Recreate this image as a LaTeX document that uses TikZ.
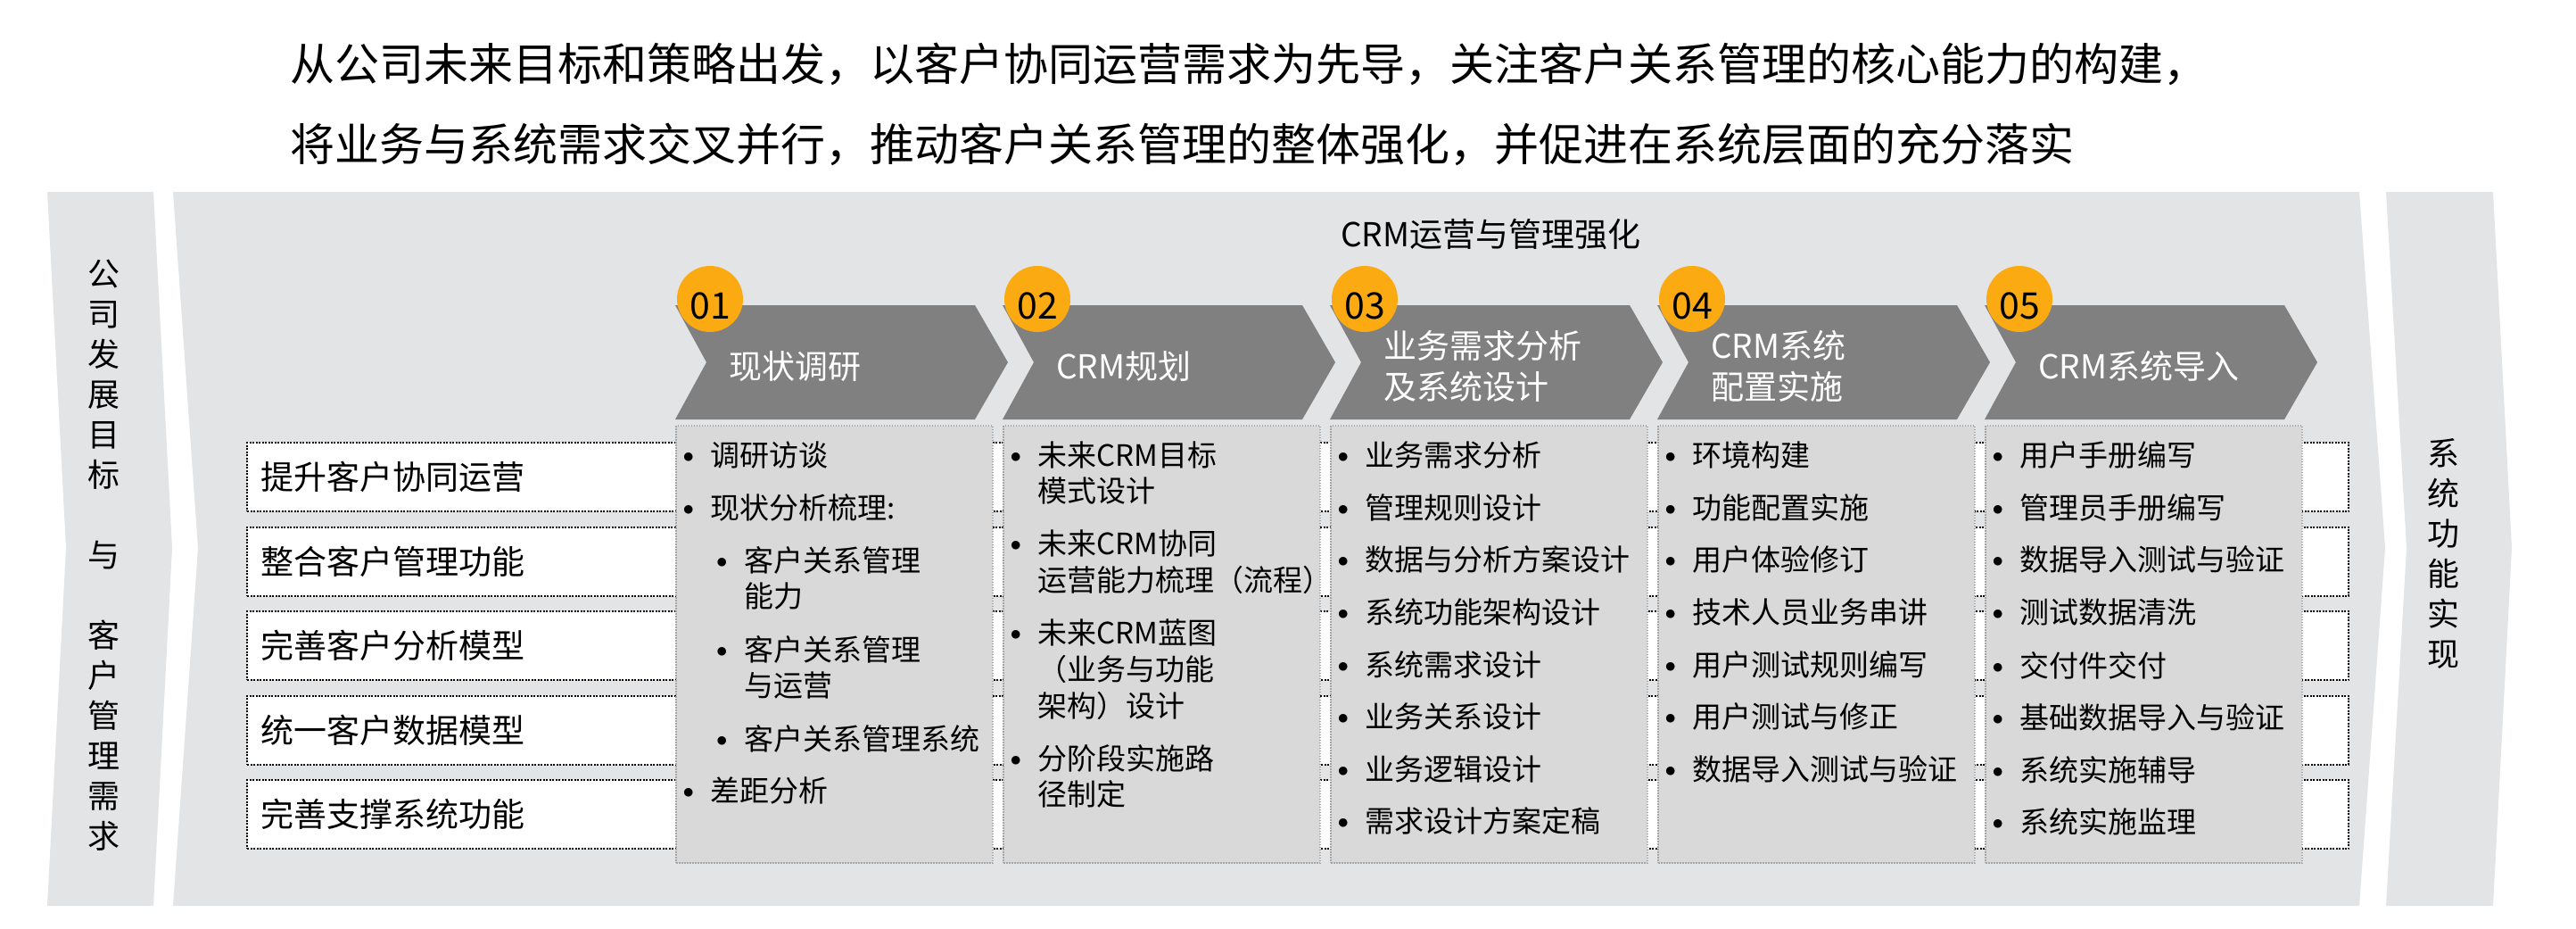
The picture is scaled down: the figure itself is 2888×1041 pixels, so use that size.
\documentclass[tikz,border=0pt]{standalone}
\usepackage{fontspec}
\setmainfont{Noto Sans CJK SC}
\usetikzlibrary{positioning}
\definecolor{panelgray}{RGB}{227,228,230}
\definecolor{stepgray}{RGB}{128,128,128}
\definecolor{boxgray}{RGB}{217,217,217}
\definecolor{dotgray}{RGB}{165,165,165}
\definecolor{numorange}{RGB}{252,170,17}
\newcommand{\bul}{\strut\makebox[31pt][l]{\raisebox{4pt}{$\bullet$}}}
\newcommand{\ind}{\strut\hspace*{31pt}}
\newcommand{\subbul}{\strut\hspace*{37.5pt}\makebox[31pt][l]{\raisebox{4pt}{$\bullet$}}}
\newcommand{\subind}{\strut\hspace*{68.5pt}}
\tikzset{
  band/.style={fill=panelgray},
  rowbox/.style={draw=black,fill=white,line width=2pt,dash pattern=on 2pt off 1.5pt,
    minimum width=2356pt,minimum height=77pt,anchor=north west,inner sep=0pt,outer sep=0pt},
  rowtext/.style={anchor=west,inner sep=0pt,font=\fontsize{37}{44}\selectfont},
  itembox/.style={draw=dotgray,fill=boxgray,line width=1.3pt,dash pattern=on 1.5pt off 1.5pt,
    minimum width=355pt,minimum height=490pt,anchor=north west,inner sep=0pt,outer sep=0pt},
  itemtext/.style={anchor=north west,inner sep=0pt,align=left,font=\fontsize{33}{40}\selectfont},
  stepnum/.style={circle,fill=numorange,minimum size=74pt,inner sep=0pt},
  numtext/.style={inner sep=0pt,font=\fontsize{41}{41}\selectfont},
  steptext/.style={anchor=west,inner sep=0pt,align=left,text=white,font=\fontsize{37}{46}\selectfont},
  sidetext/.style={inner sep=0pt,align=center,font=\fontsize{36}{45}\selectfont}
}
\begin{document}
\begin{tikzpicture}[x=1pt,y=-1pt]
  \useasboundingbox (0,0) rectangle (2888,1041);
  \node[anchor=west,inner sep=0pt,align=left,font=\fontsize{50}{90}\selectfont] (title) at (325,117)
    {从公司未来目标和策略出发，以客户协同运营需求为先导，关注客户关系管理的核心能力的构建，\\将业务与系统需求交叉并行，推动客户关系管理的整体强化，并促进在系统层面的充分落实};
  \fill[band] (53,215) -- (172,215) -- (193,614) -- (172,1015) -- (53,1015) -- (74,614) -- cycle;
  \fill[band] (194,215) -- (2645,215) -- (2674,614) -- (2645,1015) -- (194,1015) -- (222,614) -- cycle;
  \fill[band] (2675,215) -- (2795,215) -- (2816,614) -- (2795,1015) -- (2675,1015) -- (2698,614) -- cycle;
  \node[sidetext] (goal) at (116,622) {公\\司\\发\\展\\目\\标\\[45pt]与\\[45pt]客\\户\\管\\理\\需\\求};
  \node[sidetext] (result) at (2739,620) {系\\统\\功\\能\\实\\现};
  \node[anchor=west,inner sep=0pt,font=\fontsize{37}{44}\selectfont] (crm) at (1503,263) {CRM运营与管理强化};
  \foreach \t [count=\i] in {提升客户协同运营,整合客户管理功能,完善客户分析模型,统一客户数据模型,完善支撑系统功能}{
    \node[rowbox] (row\i) at (277,{496+(\i-1)*94.5}) {};
    \node[rowtext] (need\i) at ([xshift=15pt]row\i.west) {\t};
  }
  \foreach \t [count=\i] in {现状调研,CRM规划,{业务需求分析\\及系统设计},{CRM系统\\配置实施},CRM系统导入}{
    \pgfmathsetmacro{\L}{757+(\i-1)*367}
    \fill[stepgray] (\L,342) -- ++(336,0) -- ++(37,64) -- ++(-37,64) -- ++(-336,0) -- ++(35,-64) -- cycle;
    \node[steptext] (step\i) at (\L+60,410) {\t};
    \node[stepnum] (num\i) at (\L+39,335) {};
    \node[numtext] (numtxt\i) at ([yshift=-8pt]num\i) {0\i};
    \node[itembox] (box\i) at (\L+1,477) {};
  }
  \node[itemtext] (list1) at ([xshift=7.5pt,yshift=-17.5pt]box1.north west)
    {\bul 调研访谈\\[18.6pt]
     \bul 现状分析梳理:\\[18.6pt]
     \subbul 客户关系管理\\
     \subind 能力\\[18.6pt]
     \subbul 客户关系管理\\
     \subind 与运营\\[18.6pt]
     \subbul 客户关系管理系统\\[18.6pt]
     \bul 差距分析};
  \node[itemtext] (list2) at ([xshift=7.5pt,yshift=-17.5pt]box2.north west)
    {\bul 未来CRM目标\\
     \ind 模式设计\\[18.6pt]
     \bul 未来CRM协同\\
     \ind 运营能力梳理（流程）\\[18.6pt]
     \bul 未来CRM蓝图\\
     \ind （业务与功能\\
     \ind 架构）设计\\[18.6pt]
     \bul 分阶段实施路\\
     \ind 径制定};
  \node[itemtext] (list3) at ([xshift=7.5pt,yshift=-17.5pt]box3.north west)
    {\bul 业务需求分析\\[18.6pt]
     \bul 管理规则设计\\[18.6pt]
     \bul 数据与分析方案设计\\[18.6pt]
     \bul 系统功能架构设计\\[18.6pt]
     \bul 系统需求设计\\[18.6pt]
     \bul 业务关系设计\\[18.6pt]
     \bul 业务逻辑设计\\[18.6pt]
     \bul 需求设计方案定稿};
  \node[itemtext] (list4) at ([xshift=7.5pt,yshift=-17.5pt]box4.north west)
    {\bul 环境构建\\[18.6pt]
     \bul 功能配置实施\\[18.6pt]
     \bul 用户体验修订\\[18.6pt]
     \bul 技术人员业务串讲\\[18.6pt]
     \bul 用户测试规则编写\\[18.6pt]
     \bul 用户测试与修正\\[18.6pt]
     \bul 数据导入测试与验证};
  \node[itemtext] (list5) at ([xshift=7.5pt,yshift=-17.5pt]box5.north west)
    {\bul 用户手册编写\\[18.6pt]
     \bul 管理员手册编写\\[18.6pt]
     \bul 数据导入测试与验证\\[18.6pt]
     \bul 测试数据清洗\\[18.6pt]
     \bul 交付件交付\\[18.6pt]
     \bul 基础数据导入与验证\\[18.6pt]
     \bul 系统实施辅导\\[18.6pt]
     \bul 系统实施监理};
\end{tikzpicture}
\end{document}
